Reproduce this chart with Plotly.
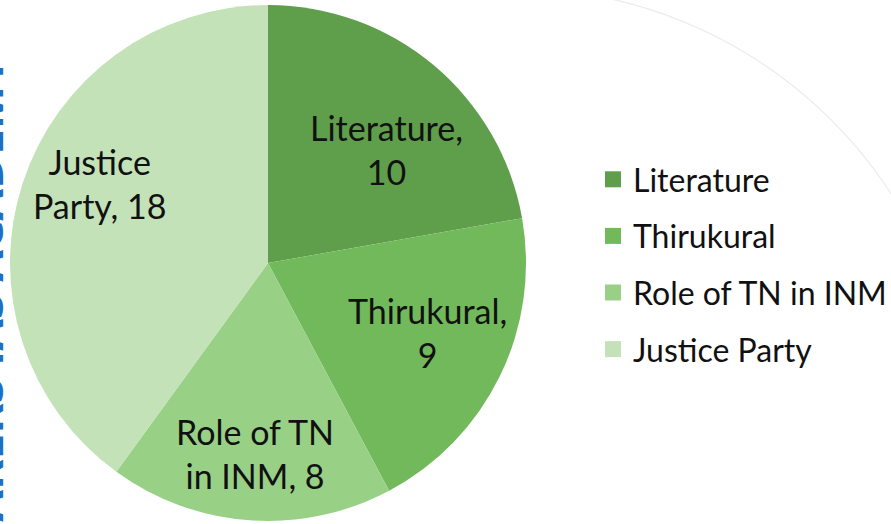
import math
import plotly.graph_objects as go

W, H = 891, 524

categories = ["Literature", "Thirukural", "Role of TN in INM", "Justice Party"]
values = [10, 9, 8, 18]
slice_text = ["Literature,<br>10", "Thirukural,<br>9", "Role of TN<br>in INM, 8", "Justice<br>Party, 18"]
colors = ["#5f9e4b", "#71b95a", "#98d086", "#c3e2b8"]

FONT = "Lato, 'Open Sans', sans-serif"

# pie geometry (pixels)
PX0, PX1, PY0, PY1 = 10, 526, 5, 521
CX, CY, R = (PX0 + PX1) / 2, (PY0 + PY1) / 2, (PX1 - PX0) / 2
LABEL_FRAC = 0.70
# small per-label nudges (px) mimicking the "best fit" label placement
label_nudge = [(2, 25), (-3, -10), (0, 10), (3, -24)]

fig = go.Figure()

fig.add_trace(go.Pie(
    labels=categories,
    values=values,
    textinfo="none",
    marker=dict(colors=colors, line=dict(width=0)),
    sort=False,
    direction="clockwise",
    rotation=0,
    showlegend=False,
    hoverinfo="label+value",
    domain=dict(x=[PX0 / W, PX1 / W], y=[(H - PY1) / H, (H - PY0) / H]),
))

# legend entries (square swatches)
for name, col in zip(categories, colors):
    fig.add_trace(go.Scatter(
        x=[None], y=[None], mode="markers", name=name,
        marker=dict(symbol="square", size=20, color=col),
        legendgroup=name, showlegend=True,
    ))

# data labels placed at each slice's mid-angle
annotations = []
total = sum(values)
cum = 0
for txt, v, (ndx, ndy) in zip(slice_text, values, label_nudge):
    th = 2 * math.pi * (cum + v / 2) / total
    cum += v
    lx = CX + LABEL_FRAC * R * math.sin(th) + ndx
    ly = CY - LABEL_FRAC * R * math.cos(th) + ndy
    annotations.append(dict(
        text=txt, xref="paper", yref="paper", x=lx / W, y=(H - ly) / H,
        xanchor="center", yanchor="middle", showarrow=False, align="center",
        font=dict(family=FONT, size=34, color="#111111"),
    ))

# watermark at left edge (mostly cut off)
annotations.append(dict(
    text="<b>KING MAKERS IAS ACADEMY</b>",
    xref="paper", yref="paper",
    x=17 / W, y=(H - 55) / H, xanchor="right", yanchor="top",
    textangle=-90, showarrow=False,
    font=dict(family="'Open Sans', sans-serif", size=46, color="#1f6fc5"),
))

# faint decorative background arc (upper right)
acx, acy, ar = 512, 440, 452
pts = []
for i in range(0, 181):
    a = math.radians(100 - i * 0.5)
    px, py = acx + ar * math.cos(a), acy - ar * math.sin(a)
    if 330 <= px <= W + 5:
        pts.append((px / W, (H - py) / H))
arc_path = "M " + " L ".join(f"{x:.5f},{y:.5f}" for x, y in pts)

fig.update_layout(
    width=W, height=H,
    margin=dict(l=0, r=0, t=0, b=0, autoexpand=False),
    paper_bgcolor="white", plot_bgcolor="white",
    xaxis=dict(visible=False), yaxis=dict(visible=False),
    legend=dict(
        x=593 / W, y=(H - 152) / H, xanchor="left", yanchor="top",
        font=dict(family=FONT, size=32, color="#111111"),
        traceorder="grouped", tracegroupgap=12,
        itemsizing="trace", bgcolor="rgba(0,0,0,0)",
    ),
    shapes=[dict(
        type="path", xref="paper", yref="paper", layer="below",
        path=arc_path,
        line=dict(color="#ebebeb", width=1.2),
    )],
    annotations=annotations,
)

fig.write_html(
    "out.html",
    config={"displayModeBar": False},
    post_script="document.body.style.margin='0';document.body.style.overflow='hidden';",
)
